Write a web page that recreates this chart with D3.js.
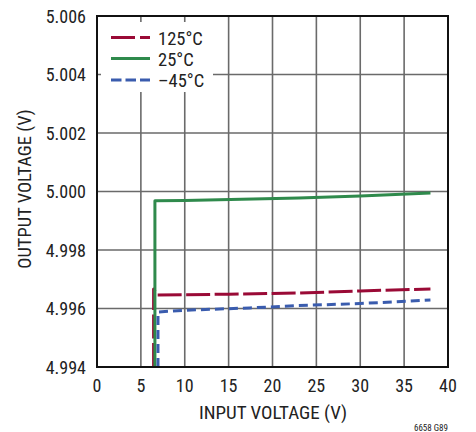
<!DOCTYPE html>
<html><head><meta charset="utf-8">
<script src="https://cdn.jsdelivr.net/npm/d3@7"></script>
<style>body{margin:0;background:#fff}svg{display:block}text{font-family:"Liberation Sans Narrow","Roboto Condensed","Liberation Sans",Arial,sans-serif;fill:#222}</style>
</head><body>
<script>
const xTicks = [0,5,10,15,20,25,30,35,40];
const yTicks = [4.994,4.996,4.998,5.000,5.002,5.004,5.006];
const seriesNames = ["125°C","25°C","\u201345°C"];
const hot = [[6.45,4.994],[6.45,4.99667],[6.9,4.99646],[15,4.99649],[23,4.99653],[30,4.99660],[38,4.99667]];
const room = [[6.6,4.994],[6.6,4.99968],[10,4.99969],[23,4.99978],[30,4.99985],[38,4.99995]];
const cold = [[6.95,4.994],[6.95,4.99588],[10,4.99594],[17.4,4.99602],[23,4.99610],[30,4.99617],[38,4.99629]];

const W=476,H=432;
const svg=d3.select("body").append("svg").attr("width",W).attr("height",H);
const x=d3.scaleLinear().domain([0,40]).range([97,448]);
const y=d3.scaleLinear().domain([4.994,5.006]).range([367,16]);

// grid
svg.append("g").selectAll("line").data(xTicks.slice(1,-1)).join("line")
 .attr("x1",d=>x(d)).attr("x2",d=>x(d)).attr("y1",y(5.006)).attr("y2",y(4.994))
 .attr("stroke","#6a6a6a").attr("stroke-width",1.6);
svg.append("g").selectAll("line").data(yTicks.slice(1,-1)).join("line")
 .attr("y1",d=>y(d)).attr("y2",d=>y(d)).attr("x1",x(0)).attr("x2",x(40))
 .attr("stroke","#6a6a6a").attr("stroke-width",1.6);

// legend background
svg.append("rect").attr("x",101).attr("y",22).attr("width",112).attr("height",70).attr("fill","#fff");

const line=d3.line().x(d=>x(d[0])).y(d=>y(d[1]));
const styles=[{c:"#9a0a36",dash:"24,4.5"},{c:"#2f8a4c",dash:null},{c:"#3a5cae",dash:"9,5"}];
[hot,room,cold].forEach((s,i)=>{
  const p=svg.append("path").datum(s).attr("d",line).attr("fill","none")
   .attr("stroke",styles[i].c).attr("stroke-width",3).attr("stroke-linejoin","round");
  if(styles[i].dash) p.attr("stroke-dasharray",styles[i].dash);
});

// frame
svg.append("rect").attr("x",x(0)).attr("y",y(5.006)).attr("width",x(40)-x(0)).attr("height",y(4.994)-y(5.006))
 .attr("fill","none").attr("stroke","#111").attr("stroke-width",2);

// legend
const ly=[37.5,58.5,80];
seriesNames.forEach((n,i)=>{
  const l=svg.append("line").attr("x1",111).attr("x2",150).attr("y1",ly[i]).attr("y2",ly[i])
   .attr("stroke",styles[i].c).attr("stroke-width",3);
  if(i===0) l.attr("stroke-dasharray","24,5");
  if(i===2) l.attr("stroke-dasharray","10.5,4");
  svg.append("text").attr("x",158).attr("y",ly[i]+7).attr("font-size",18.5).text(n);
});

// tick labels
svg.append("g").selectAll("text").data(yTicks).join("text")
 .attr("x",86).attr("y",d=>y(d)+6.5).attr("text-anchor","end").attr("font-size",18)
 .text(d=>d3.format(".3f")(d));
svg.append("g").selectAll("text").data(xTicks).join("text")
 .attr("x",d=>x(d)).attr("y",392).attr("text-anchor","middle").attr("font-size",18)
 .text(d=>d);
svg.append("text").attr("x",273).attr("y",419).attr("text-anchor","middle").attr("font-size",19).text("INPUT VOLTAGE (V)");
svg.append("text").attr("transform","translate(31,189) rotate(-90)").attr("text-anchor","middle").attr("font-size",18.5).text("OUTPUT VOLTAGE (V)");
svg.append("text").attr("x",448).attr("y",431).attr("text-anchor","end").attr("font-size",9).text("6658 G89");
</script>
</body></html>
